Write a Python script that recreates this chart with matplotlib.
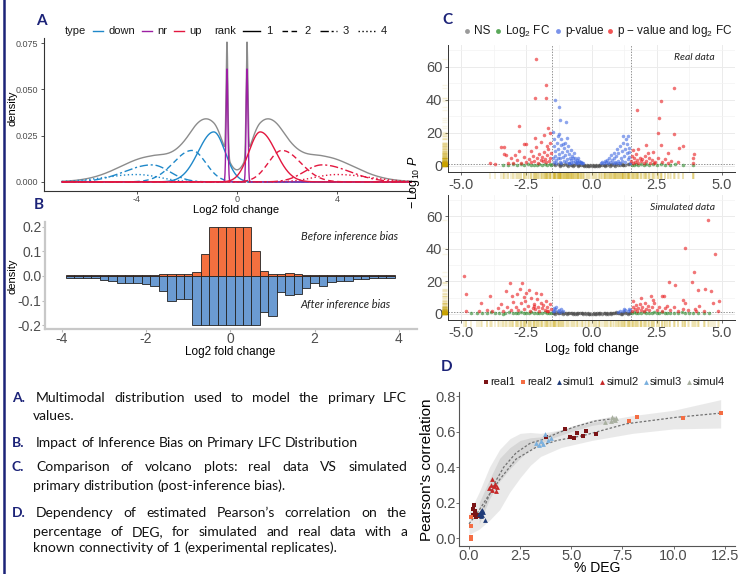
import numpy as np
import matplotlib
matplotlib.use("Agg")
import matplotlib.pyplot as plt
from matplotlib.lines import Line2D
import matplotlib.transforms as mtransforms

W, H = 741, 574
plt.rcParams['font.family'] = ['Liberation Sans', 'DejaVu Sans']
plt.rcParams['mathtext.fontset'] = 'custom'
plt.rcParams['mathtext.rm'] = 'Liberation Sans'
plt.rcParams['mathtext.it'] = 'Liberation Sans:italic'

NAVY = '#1c2378'
TICK = '#4d4d4d'

# ---------------- Panel A: mixture components (centre, peak height, outer sd, inner sd)
rank_center = [0.93, 1.8, 3.4, 4.0]
rank_height = [0.027, 0.017, 0.0092, 0.004]
rank_sd_out = [0.62, 0.75, 1.1, 1.3]
rank_sd_in = [0.45, 0.55, 0.7, 0.9]
nr_center = [-0.4, 0.4]
nr_height = [0.061, 0.061]
nr_sd = 0.035

# ---------------- Panel B: histogram densities (bins of 0.2 from -3.9 to 3.9)
before_bias = [0.002, 0.002, 0.002, 0.002, 0.002, 0.003, 0.003, 0.004, 0.005, 0.006,
               0.006, 0.007, 0.008, 0.008, 0.008, 0.018, 0.089, 0.2, 0.2, 0.2,
               0.2, 0.2, 0.10, 0.02, 0.008, 0.008, 0.013, 0.007, 0.006, 0.005,
               0.005, 0.004, 0.004, 0.003, 0.004, 0.003, 0.002, 0.002, 0.002]
after_bias = [-0.01, -0.007, -0.009, -0.01, -0.016, -0.019, -0.027, -0.03, -0.03, -0.034,
              -0.039, -0.063, -0.1, -0.093, -0.095, -0.2, -0.2, -0.2, -0.2, -0.2,
              -0.2, -0.2, -0.2, -0.145, -0.164, -0.066, -0.078, -0.075, -0.05, -0.03,
              -0.039, -0.023, -0.019, -0.019, -0.014, -0.012, -0.009, -0.009, -0.009]

# ---------------- Panel C: volcano points (log2FC, -log10 P)
real_ns = [(-1.45, 1.0), (-1.38, 0.6), (-1.3, 1.1), (-1.22, 0.4), (-1.15, 0.9), (-1.08, 0.7), (-1.0, 1.2),
           (-0.93, 0.5), (-0.86, 0.9), (-0.8, 0.3), (-0.73, 0.8), (-0.66, 0.6), (-0.6, 1.0), (-0.53, 0.4),
           (-0.47, 0.7), (-0.4, 0.5), (-0.34, 0.3), (-0.28, 0.6), (-0.22, 0.2), (-0.16, 0.4), (-0.1, 0.1),
           (-0.05, 0.3), (0.0, 0.15), (0.05, 0.25), (0.1, 0.1), (0.16, 0.35), (0.22, 0.2), (0.28, 0.5),
           (0.34, 0.3), (0.4, 0.7), (0.47, 0.4), (0.53, 0.8), (0.6, 0.5), (0.66, 1.0), (0.73, 0.6),
           (0.8, 0.9), (0.86, 0.4), (0.93, 1.1), (1.0, 0.7), (1.08, 0.5), (1.15, 1.0), (1.22, 0.8),
           (1.3, 0.6), (1.38, 1.1), (1.45, 0.9), (-1.2, 0.2), (-0.9, 0.2), (-0.7, 0.2), (-0.5, 0.15),
           (-0.3, 0.1), (-0.15, 0.05), (0.15, 0.05), (0.3, 0.1), (0.5, 0.15), (0.7, 0.2), (0.9, 0.2),
           (1.2, 0.25)]
real_fc = [(-3.4, 0.8), (-3.2, 0.5), (-3.0, 1.0), (-2.85, 0.4), (-2.7, 0.9), (-2.6, 0.6), (-2.45, 1.1),
           (-2.3, 0.5), (-2.2, 0.8), (-2.1, 0.3), (-2.0, 1.0), (-1.9, 0.6), (-1.8, 0.9), (-1.7, 0.4),
           (-1.6, 1.1), (-1.55, 0.7), (1.55, 0.8), (1.62, 0.4), (1.7, 1.0), (1.8, 0.6), (1.9, 0.9),
           (2.0, 0.3), (2.1, 1.1), (2.2, 0.6), (2.35, 0.9), (2.5, 0.5), (2.65, 1.0), (2.8, 0.7),
           (3.0, 0.4), (3.2, 0.9), (3.5, 0.6), (3.9, 0.8)]
real_p = [(-1.48, 20.2), (-1.39, 39.8), (-1.26, 35.3), (-1.2, 27.6), (-0.97, 26.3), (-1.45, 16), (-1.42, 12),
          (-1.4, 9), (-1.38, 6), (-1.36, 3.5), (-1.33, 14), (-1.3, 18), (-1.28, 10), (-1.25, 7), (-1.22, 4.5),
          (-1.2, 2.2), (-1.18, 12.5), (-1.15, 16), (-1.12, 8.5), (-1.1, 5.5), (-1.07, 3), (-1.05, 11),
          (-1.02, 14), (-1.0, 6.5), (-0.97, 2.5), (-0.95, 9), (-0.92, 4.2), (-0.9, 12), (-0.87, 7),
          (-0.85, 2), (-0.82, 5), (-0.8, 9.5), (-0.77, 3.5), (-0.75, 6), (-0.72, 2.2), (-0.7, 4.5),
          (-0.67, 7.5), (-0.65, 3), (-0.62, 5), (-0.6, 2), (-0.57, 3.8), (-0.55, 2.5), (-0.52, 4.5),
          (-0.5, 1.8), (-0.47, 3), (-0.45, 2.2), (-0.42, 1.6), (-0.4, 2.6), (-0.37, 1.8), (-0.34, 1.5),
          (-1.47, 5), (-1.44, 2.5), (-1.35, 1.8), (-1.3, 4.8), (-1.15, 1.9), (-1.08, 13), (-0.93, 17),
          (-1.24, 19), (-0.88, 1.7), (-0.78, 1.6),
          (1.2, 18.2), (1.39, 17.8), (0.38, 1.6), (0.42, 2.2), (0.47, 1.8), (0.5, 3), (0.55, 2.2),
          (0.6, 3.8), (0.63, 1.7), (0.67, 5), (0.7, 2.6), (0.75, 6.5), (0.78, 3.5), (0.82, 2), (0.85, 8),
          (0.88, 4.5), (0.9, 2.5), (0.95, 6), (0.98, 10), (1.0, 3.2), (1.03, 7.5), (1.06, 2), (1.1, 12),
          (1.12, 5), (1.15, 8.8), (1.18, 3), (1.22, 14), (1.25, 6), (1.28, 10), (1.3, 2.5), (1.32, 16),
          (1.35, 7.5), (1.38, 4), (1.42, 11), (1.45, 5.5), (1.47, 2), (1.44, 8.5), (1.36, 13), (1.08, 1.6),
          (0.93, 1.5)]
real_sig = [(-2.14, 64.7), (-1.76, 48.8), (-2.18, 41), (-1.76, 41), (-2.78, 24.3), (-1.67, 22.9),
            (-2.18, 16.7), (-1.82, 18.8), (-1.6, 19.8), (-2.5, 13.3), (-2.59, 13.3), (-3.46, 11.4),
            (-3.37, 11.4), (-3.37, 7.1), (-3.28, 6.5), (-3.9, 2), (-3.7, 1.4), (-2.76, 9.2), (-2.12, 11.6),
            (-1.93, 14.7), (-1.55, 8), (-1.58, 5), (-1.62, 3), (-1.65, 10), (-1.7, 6.5), (-1.73, 2.2),
            (-1.78, 4), (-1.82, 8.5), (-1.86, 2.8), (-1.9, 5.5), (-1.95, 3.5), (-2.0, 7), (-2.05, 2),
            (-2.1, 4.5), (-2.2, 3), (-2.25, 6), (-2.3, 2.2), (-2.4, 4), (-2.5, 2.5), (-2.6, 5.5), (-2.7, 1.8),
            (-2.85, 3.5), (-3.0, 2), (-3.1, 4.5), (-3.2, 1.7), (-2.95, 6.5), (-1.6, 14), (-1.72, 12), (-2.3, 9),
            (3.15, 47.3), (2.67, 39.2), (1.75, 33.7), (2.58, 28.8), (2.53, 19.8), (3.18, 19), (3.49, 12),
            (3.34, 10.6), (2.67, 12.4), (2.07, 12.4), (2.92, 8), (3.92, 7.1), (3.88, 4.5), (2.35, 8.6),
            (3.9, 1.6), (1.52, 3), (1.55, 6), (1.58, 2), (1.62, 4.5), (1.66, 2.5), (1.7, 7), (1.75, 3.5),
            (1.8, 1.8), (1.85, 5), (1.9, 2.8), (1.95, 4), (2.0, 2), (2.05, 6), (2.1, 3), (2.2, 4.5),
            (2.25, 2), (2.3, 3.5), (2.45, 2.2), (2.55, 5), (2.7, 2.5), (2.8, 4), (2.95, 2), (3.05, 3),
            (3.3, 2.2), (1.6, 9.5), (1.78, 10), (2.15, 8), (2.4, 1.6)]

sim_ns = [(-1.48, 0.9), (-1.42, 0.5), (-1.36, 1.1), (-1.3, 0.3), (-1.25, 0.8), (-1.18, 0.6), (-1.12, 1.0),
          (-1.05, 0.4), (-0.98, 0.8), (-0.92, 0.2), (-0.86, 0.6), (-0.8, 0.9), (-0.74, 0.35), (-0.68, 0.7),
          (-0.62, 0.2), (-0.56, 0.5), (-0.5, 0.8), (-0.44, 0.3), (-0.38, 0.6), (-0.32, 0.15), (-0.26, 0.4),
          (-0.2, 0.2), (-0.14, 0.35), (-0.08, 0.1), (-0.02, 0.25), (0.04, 0.1), (0.1, 0.3), (0.16, 0.15),
          (0.22, 0.4), (0.28, 0.2), (0.34, 0.5), (0.4, 0.25), (0.46, 0.6), (0.52, 0.3), (0.58, 0.7),
          (0.64, 0.2), (0.7, 0.5), (0.76, 0.8), (0.82, 0.3), (0.88, 0.6), (0.94, 1.0), (1.0, 0.4),
          (1.06, 0.8), (1.12, 0.25), (1.18, 0.7), (1.24, 1.1), (1.3, 0.5), (1.36, 0.9), (1.42, 0.3),
          (1.48, 0.7), (-1.4, 0.2), (-1.1, 0.15), (-0.9, 0.55), (-0.7, 0.1), (-0.55, 0.05), (-0.35, 0.4),
          (-0.1, 0.05), (0.12, 0.05), (0.3, 0.35), (0.55, 0.05), (0.75, 0.15), (0.95, 0.45), (1.15, 0.1),
          (1.4, 0.2)]
sim_fc = [(-4.6, 0.5), (-4.4, 0.9), (-4.2, 0.3), (-4.0, 0.7), (-3.85, 1.0), (-3.7, 0.4), (-3.55, 0.8),
          (-3.4, 0.2), (-3.3, 0.6), (-3.15, 1.1), (-3.0, 0.5), (-2.9, 0.8), (-2.8, 0.3), (-2.7, 1.0),
          (-2.6, 0.6), (-2.5, 0.9), (-2.4, 0.4), (-2.3, 1.1), (-2.2, 0.7), (-2.1, 0.3), (-2.0, 0.9),
          (-1.9, 0.5), (-1.8, 1.0), (-1.7, 0.6), (-1.62, 0.3), (-1.55, 0.9), (1.55, 0.6), (1.62, 1.0),
          (1.7, 0.3), (1.8, 0.8), (1.9, 0.5), (2.0, 1.1), (2.1, 0.4), (2.2, 0.8), (2.3, 0.6), (2.4, 1.0),
          (2.5, 0.3), (2.6, 0.7), (2.7, 1.0), (2.8, 0.5), (2.9, 0.8), (3.0, 0.3), (3.15, 0.9), (3.3, 0.6),
          (3.45, 1.0), (3.6, 0.4), (3.75, 0.8), (3.9, 0.5), (4.1, 0.9), (4.3, 0.4), (4.5, 0.7)]
sim_p = [(-1.48, 2), (-1.45, 3.5), (-1.42, 1.6), (-1.38, 2.8), (-1.35, 4.5), (-1.3, 1.8), (-1.25, 2.5),
         (-1.2, 1.5), (-1.15, 3), (-1.1, 1.7), (1.0, 1.5), (1.1, 2), (1.2, 1.6), (1.3, 2.4), (1.38, 1.8),
         (1.45, 3), (1.48, 2.2), (1.25, 3.2)]
sim_sig = [(4.45, 57.4), (3.57, 40.2), (4.74, 37.1), (3.92, 25.6), (3.85, 19.9), (2.98, 19.9), (3.2, 17.8),
           (-4.9, 23.5), (-4.8, 12.2), (-3.14, 19.3), (-2.67, 19.3), (-3.29, 13.8), (-2.4, 14.8),
           (-3.88, 10.8), (-2.5, 12.8), (-3.46, 6.1), (-4.22, 6.7), (-1.95, 12.2), (-2.12, 12.8),
           (4.1, 14.8), (4.36, 15.2), (4.58, 13.8), (4.64, 6.7), (4.9, 7.7), (3.49, 8.7), (2.79, 11.2),
           (2.72, 11.2), (2.27, 10.8), (4.13, 4.7), (4.83, 1.6), (-4.82, 1.6),
           (-1.55, 3), (-1.6, 6), (-1.65, 2), (-1.7, 4.5), (-1.75, 8), (-1.8, 2.5), (-1.85, 5.5),
           (-1.9, 3.5), (-1.95, 7), (-2.0, 2), (-2.05, 4), (-2.1, 9), (-2.15, 2.8), (-2.2, 6), (-2.25, 3.5),
           (-2.3, 10), (-2.35, 2), (-2.45, 5), (-2.55, 8), (-2.6, 3), (-2.7, 6.5), (-2.8, 2.2), (-2.9, 4.5),
           (-3.0, 7.5), (-3.1, 2.5), (-3.25, 4), (-3.4, 2), (-3.6, 3.5), (-3.8, 1.8), (-4.0, 2.5),
           (-4.3, 1.6), (-2.85, 12), (-2.6, 10.5), (-2.2, 4.8), (-1.7, 1.6), (-2.75, 15.5), (-3.05, 11),
           (1.55, 2), (1.6, 4), (1.65, 2.8), (1.7, 5.5), (1.75, 2), (1.8, 3.5), (1.85, 6), (1.9, 2.5),
           (1.95, 4.5), (2.0, 2), (2.05, 7), (2.1, 3), (2.15, 5), (2.2, 2.2), (2.3, 4), (2.4, 6.5),
           (2.5, 2.5), (2.6, 4.5), (2.7, 2), (2.8, 3.5), (2.9, 5), (3.0, 2.2), (3.15, 4), (3.3, 2),
           (3.5, 3), (3.7, 2.2), (3.95, 2.8), (4.3, 2), (1.6, 8), (1.9, 9.5), (2.35, 8.5), (3.6, 6.5),
           (4.0, 1.8)]

# ---------------- Panel D: % DEG vs Pearson correlation
real1_x = [0.24, 0.2, 0.31, 0.2, 0.44, 0.55, 0.35, 0.28, 4.67, 3.78, 4.92, 5.11, 5.28, 5.57, 5.7, 6.22]
real1_y = [0.188, 0.165, 0.143, 0.131, 0.131, 0.125, 0.12, 0.15, 0.612, 0.569, 0.569, 0.563, 0.593,
           0.575, 0.601, 0.588]
real2_x = [0.11, 0.11, 0.08, 0.08, 7.82, 8.22, 10.46, 12.33]
real2_y = [0.118, 0.068, 0.006, -0.004, 0.657, 0.68, 0.676, 0.704]
simul1_x = [0.55, 0.6, 0.65, 0.7, 0.5, 0.62, 0.77, 0.58]
simul1_y = [0.14, 0.15, 0.13, 0.145, 0.135, 0.16, 0.103, 0.125]
simul2_x = [1.14, 1.25, 1.0, 1.35, 1.2, 1.1, 1.3, 1.05]
simul2_y = [0.334, 0.306, 0.28, 0.29, 0.295, 0.27, 0.265, 0.3]
simul3_x = [3.7, 3.29, 3.5, 3.6, 3.85, 4.0, 3.4]
simul3_y = [0.586, 0.537, 0.545, 0.53, 0.55, 0.565, 0.525]
simul4_x = [6.95, 7.2, 7.1, 6.63, 7.0, 7.15]
simul4_y = [0.659, 0.676, 0.67, 0.654, 0.68, 0.665]
# smoothed fits and their confidence bands
real_fit_x = [0.0, 0.4, 0.9, 1.5, 2.3, 3.3, 4.3, 5.6, 7.7, 10.1, 12.3]
real_fit_y = [0.08, 0.14, 0.23, 0.33, 0.445, 0.513, 0.55, 0.578, 0.644, 0.68, 0.704]
real_band_x = [0.0, 0.5, 1.0, 1.5, 2.0, 2.5, 3.0, 3.5, 4.5, 6.0, 8.0, 10.0, 12.3]
real_band_hi = [0.14, 0.26, 0.40, 0.50, 0.56, 0.59, 0.595, 0.59, 0.61, 0.65, 0.69, 0.72, 0.78]
real_band_lo = [0.02, 0.05, 0.10, 0.16, 0.26, 0.34, 0.41, 0.46, 0.51, 0.55, 0.59, 0.615, 0.62]
sim_fit_x = [0.5, 0.8, 1.2, 1.7, 2.3, 3.0, 3.6, 4.4, 5.2, 6.2, 7.2]
sim_fit_y = [0.13, 0.19, 0.30, 0.40, 0.48, 0.535, 0.555, 0.595, 0.628, 0.66, 0.675]
sim_band_x = [0.5, 1.0, 1.5, 2.0, 2.5, 3.0, 3.5, 4.0, 5.0, 6.0, 7.2]
sim_band_hi = [0.2, 0.33, 0.45, 0.51, 0.55, 0.565, 0.57, 0.59, 0.63, 0.665, 0.69]
sim_band_lo = [0.08, 0.22, 0.32, 0.39, 0.45, 0.5, 0.53, 0.56, 0.6, 0.635, 0.655]

fig = plt.figure(figsize=(W / 100, H / 100), dpi=100)


def add_ax(l, t, r, b):
    return fig.add_axes([l / W, 1 - b / H, (r - l) / W, (b - t) / H])


def ftext(x, y, s, **kw):
    return fig.text(x / W, 1 - y / H, s, **kw)


def split_normal(x, c, h, s_out, s_in):
    outer = (x - c) * np.sign(c) > 0
    sd = np.where(outer, s_out, s_in)
    return h * np.exp(-0.5 * ((x - c) / sd) ** 2)


# ================= Panel A
axA = add_ax(44, 38, 412, 191)
xs = np.linspace(-7, 7, 4001)
rank_ls = ['-', (0, (4, 2.5)), (0, (6, 2, 1.5, 2)), (0, (1, 1.8))]
down = [split_normal(xs, -c, h, so, si) for c, h, so, si in zip(rank_center, rank_height, rank_sd_out, rank_sd_in)]
up = [split_normal(xs, c, h, so, si) for c, h, so, si in zip(rank_center, rank_height, rank_sd_out, rank_sd_in)]
nr = sum(h * np.exp(-0.5 * ((xs - c) / nr_sd) ** 2) for c, h in zip(nr_center, nr_height))
total = sum(down) + sum(up) + nr
axA.plot(xs, total, color='#8c8c8c', lw=1.0)
for d, ls in zip(down, rank_ls):
    axA.plot(xs, d, color='#1f88c9', lw=1.0, ls=ls)
axA.plot(xs, nr, color='#9c1fa3', lw=1.0)
for u, ls in zip(up, rank_ls):
    axA.plot(xs, u, color='#e3173f', lw=1.0, ls=ls)
axA.set_xlim(-7.72, 7.0)
axA.set_ylim(-0.0049, 0.0777)
axA.set_yticks([0, 0.025, 0.05, 0.075], ['0.000', '0.025', '0.050', '0.075'])
axA.set_xticks([-4, 0, 4], ['-4', '0', '4'])
axA.tick_params(labelsize=6.5, colors='#333333', labelcolor=TICK, length=2.5, width=0.6, pad=1.5)
axA.tick_params(axis='x', pad=0.5)
for s in ['top', 'right']:
    axA.spines[s].set_visible(False)
for s in ['left', 'bottom']:
    axA.spines[s].set_color('#333333')
    axA.spines[s].set_linewidth(0.8)
ftext(236, 210, 'Log2 fold change', fontsize=8, ha='center', va='center')
ftext(12, 108, 'density', fontsize=8, ha='center', va='center', rotation=90)

# ================= Panel B
axB = add_ax(45, 222, 417, 329)
centers = np.round(np.arange(-3.8, 3.81, 0.2), 1)
axB.bar(centers, after_bias, width=0.2, color='#6b9bd2', edgecolor='#222222', lw=0.6)
axB.bar(centers, before_bias, width=0.2, color='#f4703f', edgecolor='#222222', lw=0.6)
axB.set_xlim(-4.4, 4.43)
axB.set_ylim(-0.216, 0.22)
axB.set_yticks([-0.2, -0.1, 0, 0.1, 0.2], ['-0.2', '-0.1', '0.0', '0.1', '0.2'])
axB.set_xticks([-4, -2, 0, 2, 4], ['-4', '-2', '0', '2', '4'])
axB.tick_params(labelsize=10, colors='#bbbbbb', labelcolor=TICK, length=2.0, width=0.8, pad=0.5)
for s in ['top', 'right']:
    axB.spines[s].set_visible(False)
for s in ['left', 'bottom']:
    axB.spines[s].set_color('#c8c8c8')
    axB.spines[s].set_linewidth(1.6)
axB.text(0.95, 0.86, 'Before inference bias', transform=axB.transAxes, ha='right', va='center',
         fontsize=8, family='Lato', style='italic', color='#222222')
axB.text(0.93, 0.225, 'After inference bias', transform=axB.transAxes, ha='right', va='center',
         fontsize=8, family='Lato', style='italic', color='#222222')
ftext(230, 352, 'Log2 fold change', fontsize=8.5, ha='center', va='center')
ftext(13, 276, 'density', fontsize=8, ha='center', va='center', rotation=90)

# ================= Panel C
volc_colors = ['#4a4a4a', '#2e8b2e', '#4169e1', '#e8191c']


def volcano(ax, ns, fc, p, sig, title):
    groups = [ns, fc, p, sig]
    allx, ally = [], []
    for g, col in zip(groups, volc_colors):
        arr = np.array(g)
        ax.scatter(arr[:, 0], arr[:, 1], s=6.5, color=col, alpha=0.6, lw=0, zorder=3)
        allx += list(arr[:, 0])
        ally += list(arr[:, 1])
    ax.set_xlim(-5.5, 5.5)
    ax.set_ylim(-3.7, 73)
    ax.set_xticks([-5, -2.5, 0, 2.5, 5], ['-5.0', '-2.5', '0.0', '2.5', '5.0'])
    ax.set_yticks([0, 20, 40, 60])
    ax.set_xticks([-3.75, -1.25, 1.25, 3.75], minor=True)
    ax.set_yticks([10, 30, 50, 70], minor=True)
    ax.grid(which='major', color='#ebebeb', lw=0.7)
    ax.grid(which='minor', color='#f3f3f3', lw=0.5)
    ax.set_axisbelow(True)
    ax.tick_params(which='major', labelsize=10.5, colors='#555555', labelcolor=TICK, length=2.5,
                   width=0.6, pad=1.5)
    ax.tick_params(axis='x', pad=2)
    ax.tick_params(which='minor', length=0)
    for s in ['top', 'right']:
        ax.spines[s].set_visible(False)
    for s in ['left', 'bottom']:
        ax.spines[s].set_color('#333333')
        ax.spines[s].set_linewidth(0.7)
    for v in (-1.5, 1.5):
        ax.axvline(v, color='#666666', lw=0.5, ls=(0, (2, 2)), zorder=2)
    ax.axhline(1.3, color='#666666', lw=0.5, ls=(0, (2, 2)), zorder=2)
    # marginal rugs
    tb = mtransforms.blended_transform_factory(ax.transData, ax.transAxes)
    ax.vlines(allx, -0.055, -0.005, transform=tb, color='#c9a200', alpha=0.22, lw=1.1, clip_on=False)
    tl = mtransforms.blended_transform_factory(ax.transAxes, ax.transData)
    ax.hlines(ally, -0.022, -0.004, transform=tl, color='#c9a200', alpha=0.1, lw=1.0, clip_on=False)
    ax.text(0.93, 0.9, title, transform=ax.transAxes, ha='right', va='center', fontsize=7.5,
            family='Lato', style='italic', color='#222222')


axC1 = add_ax(448, 45, 735, 172)
volcano(axC1, real_ns, real_fc, real_p, real_sig, 'Real data')
axC2 = add_ax(448, 195, 735, 320)
volcano(axC2, sim_ns, sim_fc, sim_p, sim_sig, 'Simulated data')
ftext(592, 349, r'Log$_2$ fold change', fontsize=9, ha='center', va='center')
ftext(414, 182, r'$-\,$Log$_{10}$ $\mathit{P}$', fontsize=9, ha='center', va='center', rotation=90)

# ================= Panel D
axD = add_ax(459, 392, 735, 546)
axD.fill_between(real_band_x, real_band_lo, real_band_hi, color='#d0d0d0', alpha=0.45, lw=0)
axD.fill_between(sim_band_x, sim_band_lo, sim_band_hi, color='#c0c0c0', alpha=0.45, lw=0)
axD.plot(real_fit_x, real_fit_y, color='#707070', lw=0.9, ls=(0, (2, 1.5)))
axD.plot(sim_fit_x, sim_fit_y, color='#707070', lw=0.9, ls=(0, (2, 1.5)))
d_series = [(real1_x, real1_y, '#7b1416', 's'), (real2_x, real2_y, '#f46d43', 's'),
            (simul1_x, simul1_y, '#1e3a78', '^'), (simul2_x, simul2_y, '#c62828', '^'),
            (simul3_x, simul3_y, '#7ab0de', '^'), (simul4_x, simul4_y, '#a9b0a0', '^')]
for dx, dy, col, m in d_series:
    axD.scatter(dx, dy, s=9 if m == 's' else 12, marker=m, color=col, lw=0, zorder=3)
axD.set_xlim(-0.49, 13.0)
axD.set_ylim(-0.045, 0.823)
axD.set_xticks([0, 2.5, 5, 7.5, 10, 12.5], ['0.0', '2.5', '5.0', '7.5', '10.0', '12.5'])
axD.set_yticks([0, 0.2, 0.4, 0.6, 0.8], ['0.0', '0.2', '0.4', '0.6', '0.8'])
axD.tick_params(labelsize=10.5, colors='#555555', labelcolor=TICK, length=2.0, width=0.6, pad=0.5)
for s in ['top', 'right']:
    axD.spines[s].set_visible(False)
for s in ['left', 'bottom']:
    axD.spines[s].set_color('#555555')
    axD.spines[s].set_linewidth(0.8)
ftext(597, 567.5, '% DEG', fontsize=10, ha='center', va='center')
ftext(427, 470, "Pearson's correlation", fontsize=11, ha='center', va='center', rotation=90)

# ================= inline legends
rend = fig.canvas.get_renderer()


def inline_legend(x, y, items, fs):
    for it in items:
        kind = it[0]
        if kind == 'text':
            t = ftext(x, y, it[1], fontsize=fs, va='center', ha='left', color='#1a1a1a')
            x += t.get_window_extent(rend).width + it[2]
        elif kind == 'line':
            _, col, ls, w, gap = it
            fig.add_artist(Line2D([x / W, (x + w) / W], [1 - y / H] * 2, color=col, ls=ls, lw=1.0))
            x += w + gap
        else:
            _, col, m, ms, gap = it
            fig.add_artist(Line2D([x / W], [1 - y / H], marker=m, ms=ms, color=col, ls='none', mew=0))
            x += gap


inline_legend(65, 31, [('text', 'type', 7), ('line', '#1f88c9', '-', 10, 5), ('text', 'down', 7),
                       ('line', '#9c1fa3', '-', 10, 5), ('text', 'nr', 7),
                       ('line', '#e3173f', '-', 10, 5), ('text', 'up', 13),
                       ('text', 'rank', 7), ('line', 'black', rank_ls[0], 17, 6), ('text', '1', 9),
                       ('line', 'black', rank_ls[1], 17, 6), ('text', '2', 9),
                       ('line', 'black', rank_ls[2], 17, 6), ('text', '3', 9),
                       ('line', 'black', rank_ls[3], 17, 6), ('text', '4', 0)], 8)
inline_legend(467, 31, [('marker', '#9a9a9a', 'o', 3.5, 7), ('text', 'NS', 8),
                        ('marker', '#5aa85a', 'o', 3.5, 7), ('text', r'Log$_2$ FC', 8),
                        ('marker', '#7b93ea', 'o', 3.5, 7), ('text', 'p-value', 6),
                        ('marker', '#f25454', 'o', 3.5, 7), ('text', r'p $-$ value and log$_2$ FC', 0)], 8.5)
inline_legend(486, 382, [('marker', '#7b1416', 's', 2.8, 4), ('text', 'real1', 8),
                         ('marker', '#f46d43', 's', 2.8, 4), ('text', 'real2', 7),
                         ('marker', '#1e3a78', '^', 3.5, 4), ('text', 'simul1', 7),
                         ('marker', '#c62828', '^', 3.5, 4), ('text', 'simul2', 7),
                         ('marker', '#7ab0de', '^', 3.5, 4), ('text', 'simul3', 7),
                         ('marker', '#a9b0a0', '^', 3.5, 4), ('text', 'simul4', 0)], 8)

# ================= panel letters
for lab, px, py in [('A', 41, 21), ('B', 39, 205), ('C', 447, 20), ('D', 447, 367)]:
    ftext(px, py, lab, fontsize=11, family='Lato', weight='bold', color=NAVY, ha='center', va='center')

# ================= caption text (justified)
captions = [
    ('A.', ['Multimodal distribution used to model the primary LFC', 'values.'], [398, 416]),
    ('B.', ['Impact of Inference Bias on Primary LFC Distribution'], [443]),
    ('C.', ['Comparison of volcano plots: real data VS simulated',
            'primary distribution (post-inference bias).'], [467, 486]),
    ('D.', ['Dependency of estimated Pearson\u2019s correlation on the',
            'percentage of DEG, for simulated and real data with a',
            'known connectivity of 1 (experimental replicates).'], [513, 532, 548]),
]
CAP_FS = 10
x_right = 407
probe = ftext(0, 0, 'a a', fontsize=CAP_FS, family='Lato')
probe2 = ftext(0, 0, 'aa', fontsize=CAP_FS, family='Lato')
space_w = probe.get_window_extent(rend).width - probe2.get_window_extent(rend).width
probe.remove()
probe2.remove()
for lab, lines, ys in captions:
    ftext(12, ys[0], lab, fontsize=CAP_FS, family='Lato', weight='bold', color=NAVY, va='center')
    for i, (line, y) in enumerate(zip(lines, ys)):
        x0 = 36 if i == 0 else 33
        words = line.split()
        texts = [ftext(0, y, w, fontsize=CAP_FS, family='Lato', color='#111111', va='center') for w in words]
        widths = [t.get_window_extent(rend).width for t in texts]
        if i < len(lines) - 1 and len(words) > 1:
            gap = (x_right - x0 - sum(widths)) / (len(words) - 1)
        else:
            gap = space_w
        x = x0
        for t, w in zip(texts, widths):
            t.set_x(x / W)
            x += w + gap

# left frame line
fig.add_artist(Line2D([4 / W, 4 / W], [0, 1], color=NAVY, lw=1.8))

fig.savefig('out.png', dpi=100)
